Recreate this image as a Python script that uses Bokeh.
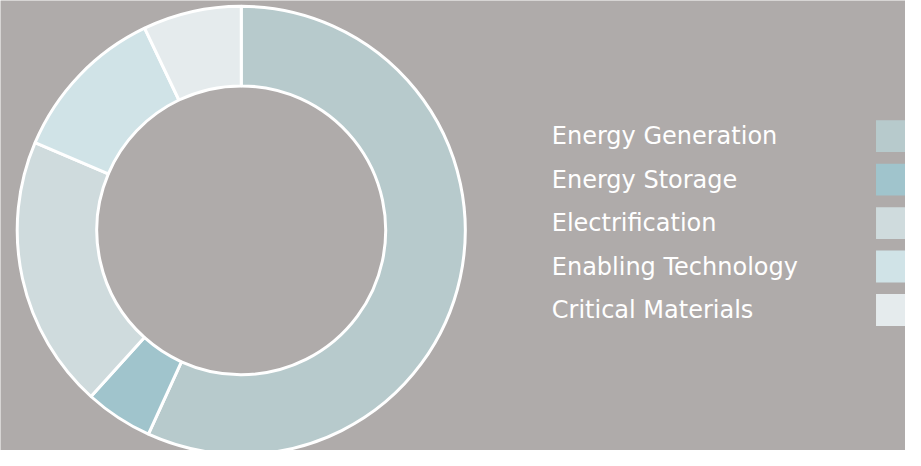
import numpy as np
from bokeh.plotting import figure
from bokeh.models import Range1d, ColumnDataSource
from bokeh.core.properties import value
from bokeh.embed import file_html
from bokeh.resources import INLINE

categories = ["Energy Generation", "Energy Storage", "Electrification",
              "Enabling Technology", "Critical Materials"]
shares = [56.8, 4.9, 19.7, 11.5, 7.1]
colors = ["#B7CACC", "#A0C4CC", "#CFDBDD", "#D0E3E7", "#E5EBED"]

BG = "#AFABAA"

# reference-pixel coordinate system (921 x 466), y pointing up as negative page y
W, H = 905, 450
p = figure(width=W, height=H, output_backend="svg", toolbar_location=None,
           x_range=Range1d(0, 921), y_range=Range1d(-466, 0),
           min_border=0, background_fill_color=BG, border_fill_color=BG,
           outline_line_color=None)
p.axis.visible = False
p.grid.visible = False

frac = np.array(shares) / np.sum(shares)
cum = np.concatenate([[0], np.cumsum(frac)])
start = np.pi / 2 - 2 * np.pi * cum[:-1]
end = np.pi / 2 - 2 * np.pi * cum[1:]

src = ColumnDataSource(dict(cat=categories, start=start, end=end, color=colors))
p.annular_wedge(x=245, y=-238, inner_radius=147, outer_radius=228,
                start_angle="start", end_angle="end", direction="clock",
                fill_color="color", line_color="white", line_width=3, source=src)

ys = [-(140.5 + 45 * i) for i in range(len(categories))]
leg = ColumnDataSource(dict(cat=categories, y=ys, color=colors))
p.text(x=561, y="y", text="cat", source=leg, text_color="white",
       text_font=value("DejaVu Sans"), text_font_size="24px",
       text_baseline="middle", text_align="left")
p.rect(x=908, y="y", width=34, height=33, fill_color="color", line_color=None,
       source=leg)

open("out.html", "w").write(file_html(p, INLINE))
